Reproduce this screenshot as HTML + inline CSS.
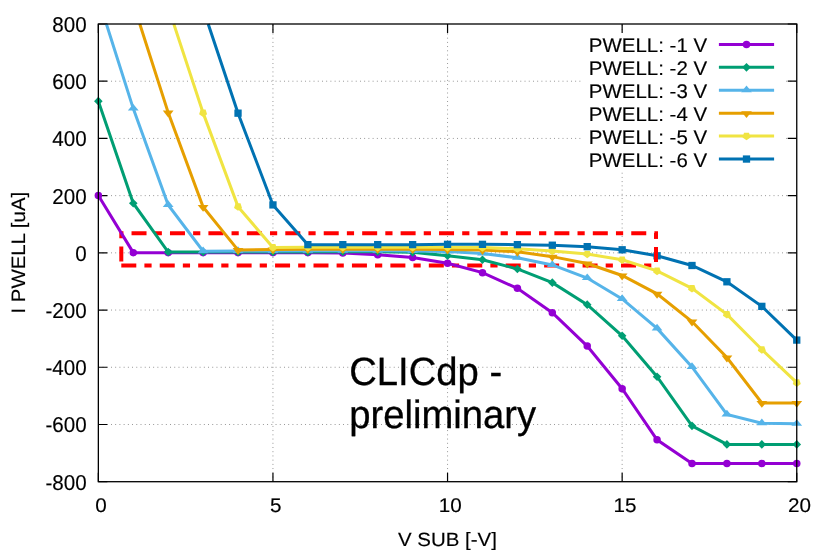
<!DOCTYPE html>
<html><head><meta charset="utf-8"><title>I PWELL vs V SUB</title>
<style>html,body{margin:0;padding:0;background:#fff}svg{display:block;will-change:transform}text{font-family:"Liberation Sans",sans-serif;fill:#000;stroke:#000;stroke-width:.15px;text-rendering:geometricPrecision}</style></head>
<body>
<svg width="830" height="554" viewBox="0 0 830 554">
<rect width="830" height="554" fill="#fff"/>
<g id="grid">
<path d="M98.35 81.21H796.75" stroke="#000" stroke-opacity="0.45" stroke-width="1" stroke-dasharray="0.9 3.32" fill="none"/>
<path d="M98.35 138.43H796.75" stroke="#000" stroke-opacity="0.45" stroke-width="1" stroke-dasharray="0.9 3.32" fill="none"/>
<path d="M98.35 195.64H796.75" stroke="#000" stroke-opacity="0.45" stroke-width="1" stroke-dasharray="0.9 3.32" fill="none"/>
<path d="M98.35 252.85H796.75" stroke="#000" stroke-opacity="0.45" stroke-width="1" stroke-dasharray="0.9 3.32" fill="none"/>
<path d="M98.35 310.06H796.75" stroke="#000" stroke-opacity="0.45" stroke-width="1" stroke-dasharray="0.9 3.32" fill="none"/>
<path d="M98.35 367.27H796.75" stroke="#000" stroke-opacity="0.45" stroke-width="1" stroke-dasharray="0.9 3.32" fill="none"/>
<path d="M98.35 424.49H796.75" stroke="#000" stroke-opacity="0.45" stroke-width="1" stroke-dasharray="0.9 3.32" fill="none"/>
<path d="M272.95 481.70V24.00" stroke="#000" stroke-opacity="0.45" stroke-width="1" stroke-dasharray="0.9 3.32" fill="none"/>
<path d="M447.55 481.70V24.00" stroke="#000" stroke-opacity="0.45" stroke-width="1" stroke-dasharray="0.9 3.32" fill="none"/>
<path d="M622.15 481.70V24.00" stroke="#000" stroke-opacity="0.45" stroke-width="1" stroke-dasharray="0.9 3.32" fill="none"/>
</g>
<g id="ticks" stroke="#000" stroke-width="1.2" fill="none">
<path d="M98.35 481.70h9M796.75 481.70h-9"/>
<path d="M98.35 424.49h9M796.75 424.49h-9"/>
<path d="M98.35 367.27h9M796.75 367.27h-9"/>
<path d="M98.35 310.06h9M796.75 310.06h-9"/>
<path d="M98.35 252.85h9M796.75 252.85h-9"/>
<path d="M98.35 195.64h9M796.75 195.64h-9"/>
<path d="M98.35 138.43h9M796.75 138.43h-9"/>
<path d="M98.35 81.21h9M796.75 81.21h-9"/>
<path d="M98.35 24.00h9M796.75 24.00h-9"/>
<path d="M98.35 481.70v-9M98.35 24.00v9"/>
<path d="M272.95 481.70v-9M272.95 24.00v9"/>
<path d="M447.55 481.70v-9M447.55 24.00v9"/>
<path d="M622.15 481.70v-9M622.15 24.00v9"/>
<path d="M796.75 481.70v-9M796.75 24.00v9"/>
</g>
<g id="ylabels">
<text transform="translate(86.60 489.70) scale(0.957 1)" font-size="21.5" text-anchor="end">-800</text>
<text transform="translate(86.60 432.49) scale(0.957 1)" font-size="21.5" text-anchor="end">-600</text>
<text transform="translate(86.60 375.27) scale(0.957 1)" font-size="21.5" text-anchor="end">-400</text>
<text transform="translate(86.60 318.06) scale(0.957 1)" font-size="21.5" text-anchor="end">-200</text>
<text transform="translate(86.60 260.85) scale(0.957 1)" font-size="21.5" text-anchor="end">0</text>
<text transform="translate(86.60 203.64) scale(0.957 1)" font-size="21.5" text-anchor="end">200</text>
<text transform="translate(86.60 146.43) scale(0.957 1)" font-size="21.5" text-anchor="end">400</text>
<text transform="translate(86.60 89.21) scale(0.957 1)" font-size="21.5" text-anchor="end">600</text>
<text transform="translate(86.60 32.00) scale(0.957 1)" font-size="21.5" text-anchor="end">800</text>
</g>
<g id="xlabels">
<text transform="translate(101.10 512.45) scale(1.045 1)" font-size="19.8" text-anchor="middle">0</text>
<text transform="translate(275.70 512.45) scale(1.045 1)" font-size="19.8" text-anchor="middle">5</text>
<text transform="translate(450.30 512.45) scale(1.045 1)" font-size="19.8" text-anchor="middle">10</text>
<text transform="translate(624.90 512.45) scale(1.045 1)" font-size="19.8" text-anchor="middle">15</text>
<text transform="translate(799.50 512.45) scale(1.045 1)" font-size="19.8" text-anchor="middle">20</text>
</g>
<text transform="translate(447.40 546.30) scale(1.062 1)" font-size="19.3" text-anchor="middle">V SUB [-V]</text>
<text transform="translate(25.35 252.70) rotate(-90) scale(1.052 1)" font-size="19.4" text-anchor="middle">I PWELL [uA]</text>
<path id="redbox" d="M121.3 265.4L656.0 265.4L656.0 233.25L121.3 233.25Z" stroke="#FF0000" stroke-width="4" fill="none" stroke-dasharray="15 8.1 7.2 8.14"/>
<text transform="translate(349.20 384.60) scale(0.968 1)" font-size="39.5" text-anchor="start" style="stroke-width:.3px">CLICdp -</text>
<text transform="translate(349.20 427.70) scale(0.968 1)" font-size="39.5" text-anchor="start" style="stroke-width:.3px">preliminary</text>
<defs><clipPath id="pc"><rect x="98.35" y="24.0" width="698.4" height="487.7"/></clipPath></defs>
<g id="s1">
<path d="M98.35 195.48L133.27 252.64L168.19 252.64L203.11 252.64L238.03 252.64L272.95 252.64L307.87 252.64L342.79 252.93L377.71 254.64L412.63 257.50L447.55 263.21L482.47 272.65L517.39 288.37L552.31 312.66L587.23 346.10L622.15 388.68L657.07 439.84L691.99 463.56L726.91 463.56L761.83 463.56L796.75 463.56" stroke="#9400D3" stroke-width="3.0" fill="none" stroke-linejoin="miter" stroke-linecap="butt"/>
<circle cx="98.35" cy="195.48" r="3.75" fill="#9400D3"/>
<circle cx="133.27" cy="252.64" r="3.75" fill="#9400D3"/>
<circle cx="168.19" cy="252.64" r="3.75" fill="#9400D3"/>
<circle cx="203.11" cy="252.64" r="3.75" fill="#9400D3"/>
<circle cx="238.03" cy="252.64" r="3.75" fill="#9400D3"/>
<circle cx="272.95" cy="252.64" r="3.75" fill="#9400D3"/>
<circle cx="307.87" cy="252.64" r="3.75" fill="#9400D3"/>
<circle cx="342.79" cy="252.93" r="3.75" fill="#9400D3"/>
<circle cx="377.71" cy="254.64" r="3.75" fill="#9400D3"/>
<circle cx="412.63" cy="257.50" r="3.75" fill="#9400D3"/>
<circle cx="447.55" cy="263.21" r="3.75" fill="#9400D3"/>
<circle cx="482.47" cy="272.65" r="3.75" fill="#9400D3"/>
<circle cx="517.39" cy="288.37" r="3.75" fill="#9400D3"/>
<circle cx="552.31" cy="312.66" r="3.75" fill="#9400D3"/>
<circle cx="587.23" cy="346.10" r="3.75" fill="#9400D3"/>
<circle cx="622.15" cy="388.68" r="3.75" fill="#9400D3"/>
<circle cx="657.07" cy="439.84" r="3.75" fill="#9400D3"/>
<circle cx="691.99" cy="463.56" r="3.75" fill="#9400D3"/>
<circle cx="726.91" cy="463.56" r="3.75" fill="#9400D3"/>
<circle cx="761.83" cy="463.56" r="3.75" fill="#9400D3"/>
<circle cx="796.75" cy="463.56" r="3.75" fill="#9400D3"/>
</g>
<g id="s2">
<path d="M98.35 101.17L133.27 203.20L168.19 252.07L203.11 252.07L238.03 252.07L272.95 252.07L307.87 252.07L342.79 251.78L377.71 251.78L412.63 252.35L447.55 255.78L482.47 259.78L517.39 268.93L552.31 282.65L587.23 304.66L622.15 335.81L657.07 376.68L691.99 425.83L726.91 444.41L761.83 444.41L796.75 444.41" stroke="#009E73" stroke-width="3.0" fill="none" stroke-linejoin="miter" stroke-linecap="butt"/>
<path d="M94.05 101.17L98.35 96.87L102.65 101.17L98.35 105.47Z" fill="#009E73"/>
<path d="M128.97 203.20L133.27 198.90L137.57 203.20L133.27 207.50Z" fill="#009E73"/>
<path d="M163.89 252.07L168.19 247.77L172.49 252.07L168.19 256.37Z" fill="#009E73"/>
<path d="M198.81 252.07L203.11 247.77L207.41 252.07L203.11 256.37Z" fill="#009E73"/>
<path d="M233.73 252.07L238.03 247.77L242.33 252.07L238.03 256.37Z" fill="#009E73"/>
<path d="M268.65 252.07L272.95 247.77L277.25 252.07L272.95 256.37Z" fill="#009E73"/>
<path d="M303.57 252.07L307.87 247.77L312.17 252.07L307.87 256.37Z" fill="#009E73"/>
<path d="M338.49 251.78L342.79 247.48L347.09 251.78L342.79 256.08Z" fill="#009E73"/>
<path d="M373.41 251.78L377.71 247.48L382.01 251.78L377.71 256.08Z" fill="#009E73"/>
<path d="M408.33 252.35L412.63 248.05L416.93 252.35L412.63 256.65Z" fill="#009E73"/>
<path d="M443.25 255.78L447.55 251.48L451.85 255.78L447.55 260.08Z" fill="#009E73"/>
<path d="M478.17 259.78L482.47 255.48L486.77 259.78L482.47 264.08Z" fill="#009E73"/>
<path d="M513.09 268.93L517.39 264.63L521.69 268.93L517.39 273.23Z" fill="#009E73"/>
<path d="M548.01 282.65L552.31 278.35L556.61 282.65L552.31 286.95Z" fill="#009E73"/>
<path d="M582.93 304.66L587.23 300.36L591.53 304.66L587.23 308.96Z" fill="#009E73"/>
<path d="M617.85 335.81L622.15 331.51L626.45 335.81L622.15 340.11Z" fill="#009E73"/>
<path d="M652.77 376.68L657.07 372.38L661.37 376.68L657.07 380.98Z" fill="#009E73"/>
<path d="M687.69 425.83L691.99 421.53L696.29 425.83L691.99 430.13Z" fill="#009E73"/>
<path d="M722.61 444.41L726.91 440.11L731.21 444.41L726.91 448.71Z" fill="#009E73"/>
<path d="M757.53 444.41L761.83 440.11L766.13 444.41L761.83 448.71Z" fill="#009E73"/>
<path d="M792.45 444.41L796.75 440.11L801.05 444.41L796.75 448.71Z" fill="#009E73"/>
</g>
<g id="s3">
<path d="M106.40 24.00L133.27 108.60L168.19 204.91L203.11 251.21L238.03 250.93L272.95 250.93L307.87 250.64L342.79 250.64L377.71 250.64L412.63 250.93L447.55 251.50L482.47 253.50L517.39 257.78L552.31 264.93L587.23 278.08L622.15 298.94L657.07 328.38L691.99 366.96L726.91 414.40L761.83 423.26L796.75 423.83" stroke="#56B4E9" stroke-width="3.0" fill="none" stroke-linejoin="miter" stroke-linecap="butt"/>
<path d="M127.87 110.60L133.27 103.90L138.67 110.60Z" fill="#56B4E9"/>
<path d="M162.79 206.91L168.19 200.21L173.59 206.91Z" fill="#56B4E9"/>
<path d="M197.71 253.21L203.11 246.51L208.51 253.21Z" fill="#56B4E9"/>
<path d="M232.63 252.93L238.03 246.23L243.43 252.93Z" fill="#56B4E9"/>
<path d="M267.55 252.93L272.95 246.23L278.35 252.93Z" fill="#56B4E9"/>
<path d="M302.47 252.64L307.87 245.94L313.27 252.64Z" fill="#56B4E9"/>
<path d="M337.39 252.64L342.79 245.94L348.19 252.64Z" fill="#56B4E9"/>
<path d="M372.31 252.64L377.71 245.94L383.11 252.64Z" fill="#56B4E9"/>
<path d="M407.23 252.93L412.63 246.23L418.03 252.93Z" fill="#56B4E9"/>
<path d="M442.15 253.50L447.55 246.80L452.95 253.50Z" fill="#56B4E9"/>
<path d="M477.07 255.50L482.47 248.80L487.87 255.50Z" fill="#56B4E9"/>
<path d="M511.99 259.78L517.39 253.08L522.79 259.78Z" fill="#56B4E9"/>
<path d="M546.91 266.93L552.31 260.23L557.71 266.93Z" fill="#56B4E9"/>
<path d="M581.83 280.08L587.23 273.38L592.63 280.08Z" fill="#56B4E9"/>
<path d="M616.75 300.94L622.15 294.24L627.55 300.94Z" fill="#56B4E9"/>
<path d="M651.67 330.38L657.07 323.68L662.47 330.38Z" fill="#56B4E9"/>
<path d="M686.59 368.96L691.99 362.26L697.39 368.96Z" fill="#56B4E9"/>
<path d="M721.51 416.40L726.91 409.70L732.31 416.40Z" fill="#56B4E9"/>
<path d="M756.43 425.26L761.83 418.56L767.23 425.26Z" fill="#56B4E9"/>
<path d="M791.35 425.83L796.75 419.13L802.15 425.83Z" fill="#56B4E9"/>
</g>
<g id="s4">
<path d="M139.80 24.00L168.19 112.60L203.11 206.91L238.03 250.07L272.95 249.50L307.87 249.21L342.79 249.21L377.71 249.21L412.63 249.21L447.55 249.50L482.47 250.07L517.39 251.78L552.31 256.64L587.23 263.50L622.15 275.50L657.07 293.80L691.99 321.52L726.91 357.53L761.83 402.97L796.75 402.97" stroke="#E69F00" stroke-width="3.0" fill="none" stroke-linejoin="miter" stroke-linecap="butt"/>
<path d="M162.79 110.60L168.19 117.50L173.59 110.60Z" fill="#E69F00"/>
<path d="M197.71 204.91L203.11 211.81L208.51 204.91Z" fill="#E69F00"/>
<path d="M232.63 248.07L238.03 254.97L243.43 248.07Z" fill="#E69F00"/>
<path d="M267.55 247.50L272.95 254.40L278.35 247.50Z" fill="#E69F00"/>
<path d="M302.47 247.21L307.87 254.11L313.27 247.21Z" fill="#E69F00"/>
<path d="M337.39 247.21L342.79 254.11L348.19 247.21Z" fill="#E69F00"/>
<path d="M372.31 247.21L377.71 254.11L383.11 247.21Z" fill="#E69F00"/>
<path d="M407.23 247.21L412.63 254.11L418.03 247.21Z" fill="#E69F00"/>
<path d="M442.15 247.50L447.55 254.40L452.95 247.50Z" fill="#E69F00"/>
<path d="M477.07 248.07L482.47 254.97L487.87 248.07Z" fill="#E69F00"/>
<path d="M511.99 249.78L517.39 256.68L522.79 249.78Z" fill="#E69F00"/>
<path d="M546.91 254.64L552.31 261.54L557.71 254.64Z" fill="#E69F00"/>
<path d="M581.83 261.50L587.23 268.40L592.63 261.50Z" fill="#E69F00"/>
<path d="M616.75 273.50L622.15 280.40L627.55 273.50Z" fill="#E69F00"/>
<path d="M651.67 291.80L657.07 298.70L662.47 291.80Z" fill="#E69F00"/>
<path d="M686.59 319.52L691.99 326.42L697.39 319.52Z" fill="#E69F00"/>
<path d="M721.51 355.53L726.91 362.43L732.31 355.53Z" fill="#E69F00"/>
<path d="M756.43 400.97L761.83 407.87L767.23 400.97Z" fill="#E69F00"/>
<path d="M791.35 400.97L796.75 407.87L802.15 400.97Z" fill="#E69F00"/>
</g>
<g id="s5">
<path d="M173.80 24.00L203.11 112.88L238.03 206.63L272.95 247.50L307.87 247.21L342.79 247.21L377.71 247.21L412.63 247.21L447.55 247.21L482.47 247.50L517.39 248.64L552.31 250.93L587.23 254.07L622.15 259.78L657.07 270.93L691.99 288.37L726.91 314.37L761.83 349.53L796.75 382.68" stroke="#F0E442" stroke-width="3.0" fill="none" stroke-linejoin="miter" stroke-linecap="butt"/>
<path d="M205.58 109.49L200.64 109.49L199.12 114.18L203.11 117.08L207.10 114.18Z" fill="#F0E442"/>
<path d="M240.50 203.23L235.56 203.23L234.04 207.92L238.03 210.83L242.02 207.92Z" fill="#F0E442"/>
<path d="M275.42 244.10L270.48 244.10L268.96 248.79L272.95 251.70L276.94 248.79Z" fill="#F0E442"/>
<path d="M310.34 243.81L305.40 243.81L303.88 248.51L307.87 251.41L311.86 248.51Z" fill="#F0E442"/>
<path d="M345.26 243.81L340.32 243.81L338.80 248.51L342.79 251.41L346.78 248.51Z" fill="#F0E442"/>
<path d="M380.18 243.81L375.24 243.81L373.72 248.51L377.71 251.41L381.70 248.51Z" fill="#F0E442"/>
<path d="M415.10 243.81L410.16 243.81L408.64 248.51L412.63 251.41L416.62 248.51Z" fill="#F0E442"/>
<path d="M450.02 243.81L445.08 243.81L443.56 248.51L447.55 251.41L451.54 248.51Z" fill="#F0E442"/>
<path d="M484.94 244.10L480.00 244.10L478.48 248.79L482.47 251.70L486.46 248.79Z" fill="#F0E442"/>
<path d="M519.86 245.24L514.92 245.24L513.40 249.94L517.39 252.84L521.38 249.94Z" fill="#F0E442"/>
<path d="M554.78 247.53L549.84 247.53L548.32 252.22L552.31 255.13L556.30 252.22Z" fill="#F0E442"/>
<path d="M589.70 250.67L584.76 250.67L583.24 255.37L587.23 258.27L591.22 255.37Z" fill="#F0E442"/>
<path d="M624.62 256.39L619.68 256.39L618.16 261.08L622.15 263.98L626.14 261.08Z" fill="#F0E442"/>
<path d="M659.54 267.53L654.60 267.53L653.08 272.23L657.07 275.13L661.06 272.23Z" fill="#F0E442"/>
<path d="M694.46 284.97L689.52 284.97L688.00 289.66L691.99 292.56L695.98 289.66Z" fill="#F0E442"/>
<path d="M729.38 310.97L724.44 310.97L722.92 315.67L726.91 318.57L730.90 315.67Z" fill="#F0E442"/>
<path d="M764.30 346.13L759.36 346.13L757.84 350.82L761.83 353.73L765.82 350.82Z" fill="#F0E442"/>
<path d="M799.22 379.28L794.28 379.28L792.76 383.98L796.75 386.88L800.74 383.98Z" fill="#F0E442"/>
</g>
<g id="s6">
<path d="M208.20 24.00L238.03 113.17L272.95 204.91L307.87 244.64L342.79 244.64L377.71 244.64L412.63 244.64L447.55 244.35L482.47 244.35L517.39 244.64L552.31 245.21L587.23 246.64L622.15 249.78L657.07 255.78L691.99 265.50L726.91 281.79L761.83 306.37L796.75 340.09" stroke="#0072B2" stroke-width="3.0" fill="none" stroke-linejoin="miter" stroke-linecap="butt"/>
<rect x="234.38" y="109.52" width="7.30" height="7.30" fill="#0072B2"/>
<rect x="269.30" y="201.26" width="7.30" height="7.30" fill="#0072B2"/>
<rect x="304.22" y="240.99" width="7.30" height="7.30" fill="#0072B2"/>
<rect x="339.14" y="240.99" width="7.30" height="7.30" fill="#0072B2"/>
<rect x="374.06" y="240.99" width="7.30" height="7.30" fill="#0072B2"/>
<rect x="408.98" y="240.99" width="7.30" height="7.30" fill="#0072B2"/>
<rect x="443.90" y="240.70" width="7.30" height="7.30" fill="#0072B2"/>
<rect x="478.82" y="240.70" width="7.30" height="7.30" fill="#0072B2"/>
<rect x="513.74" y="240.99" width="7.30" height="7.30" fill="#0072B2"/>
<rect x="548.66" y="241.56" width="7.30" height="7.30" fill="#0072B2"/>
<rect x="583.58" y="242.99" width="7.30" height="7.30" fill="#0072B2"/>
<rect x="618.50" y="246.13" width="7.30" height="7.30" fill="#0072B2"/>
<rect x="653.42" y="252.13" width="7.30" height="7.30" fill="#0072B2"/>
<rect x="688.34" y="261.85" width="7.30" height="7.30" fill="#0072B2"/>
<rect x="723.26" y="278.14" width="7.30" height="7.30" fill="#0072B2"/>
<rect x="758.18" y="302.72" width="7.30" height="7.30" fill="#0072B2"/>
<rect x="793.10" y="336.44" width="7.30" height="7.30" fill="#0072B2"/>
</g>
<path d="M656.0 265.4L656.0 233.25" stroke="#FF0000" stroke-width="4" fill="none" stroke-dasharray="15 8.1 7.2 8.14" stroke-dashoffset="34.98"/>
<rect x="582" y="33" width="203" height="138" fill="#fff"/>
<g id="legend">
<text transform="translate(707.10 51.70) scale(1.034 1)" font-size="19.8" text-anchor="end">PWELL: -1 V</text>
<path d="M718.9 44.40H774.1" stroke="#9400D3" stroke-width="3.0" fill="none"/>
<circle cx="746.50" cy="44.40" r="3.75" fill="#9400D3"/>
<text transform="translate(707.10 74.68) scale(1.034 1)" font-size="19.8" text-anchor="end">PWELL: -2 V</text>
<path d="M718.9 67.33H774.1" stroke="#009E73" stroke-width="3.0" fill="none"/>
<path d="M742.20 67.33L746.50 63.03L750.80 67.33L746.50 71.63Z" fill="#009E73"/>
<text transform="translate(707.10 97.66) scale(1.034 1)" font-size="19.8" text-anchor="end">PWELL: -3 V</text>
<path d="M718.9 90.26H774.1" stroke="#56B4E9" stroke-width="3.0" fill="none"/>
<path d="M741.10 92.26L746.50 85.56L751.90 92.26Z" fill="#56B4E9"/>
<text transform="translate(707.10 120.64) scale(1.034 1)" font-size="19.8" text-anchor="end">PWELL: -4 V</text>
<path d="M718.9 113.19H774.1" stroke="#E69F00" stroke-width="3.0" fill="none"/>
<path d="M741.10 111.19L746.50 118.09L751.90 111.19Z" fill="#E69F00"/>
<text transform="translate(707.10 143.62) scale(1.034 1)" font-size="19.8" text-anchor="end">PWELL: -5 V</text>
<path d="M718.9 136.12H774.1" stroke="#F0E442" stroke-width="3.0" fill="none"/>
<path d="M748.97 132.72L744.03 132.72L742.51 137.42L746.50 140.32L750.49 137.42Z" fill="#F0E442"/>
<text transform="translate(707.10 166.60) scale(1.034 1)" font-size="19.8" text-anchor="end">PWELL: -6 V</text>
<path d="M718.9 159.05H774.1" stroke="#0072B2" stroke-width="3.0" fill="none"/>
<rect x="742.85" y="155.40" width="7.30" height="7.30" fill="#0072B2"/>
</g>
<rect x="98.35" y="24.0" width="698.40" height="457.70" fill="none" stroke="#000" stroke-width="1.3"/>
</svg>
</body></html>
